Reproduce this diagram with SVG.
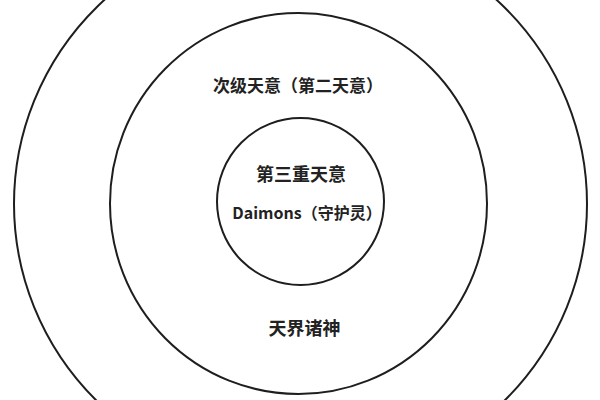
<svg xmlns="http://www.w3.org/2000/svg" width="600" height="400" viewBox="0 0 600 400">
  <style>
    .ring { fill: none; stroke: #1e1e1e; stroke-width: 2; }
    .lbl { font-family: "Noto Sans CJK SC", "Noto Sans", sans-serif; font-weight: bold; fill: #222; text-anchor: middle; }
  </style>
  <rect width="600" height="400" fill="#ffffff"/>
  <g id="outer">
    <ellipse class="ring" cx="300.5" cy="204" rx="286.5" ry="280"/>
    <text class="lbl" x="304.5" y="335" font-size="18">天界诸神</text>
  </g>
  <g id="middle">
    <ellipse class="ring" cx="298.5" cy="203.5" rx="188.5" ry="190.5"/>
    <text class="lbl" x="298" y="92" font-size="17">次级天意（第二天意）</text>
  </g>
  <g id="inner">
    <ellipse class="ring" cx="300.5" cy="201.5" rx="83.5" ry="83.5"/>
    <text class="lbl" x="301" y="181" font-size="18">第三重天意</text>
    <text class="lbl" x="307" y="219" font-size="16">Daimons（守护灵）</text>
  </g>
  <g id="connectors"/>
</svg>
